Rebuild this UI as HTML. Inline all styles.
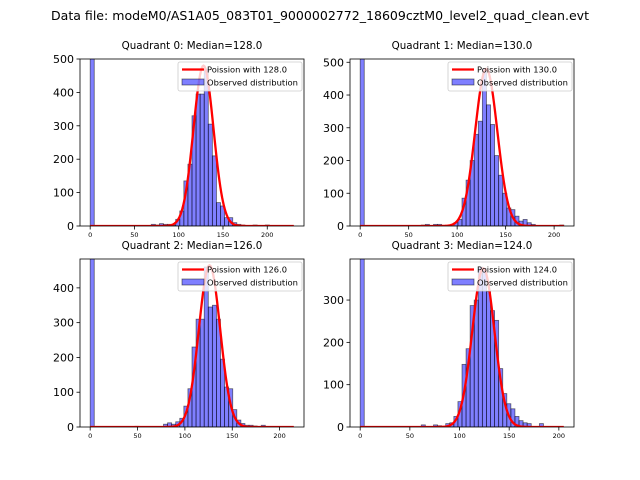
<!DOCTYPE html>
<html><head><meta charset="utf-8"><style>
body{margin:0;background:#fff;}
svg{display:block;font-family:"DejaVu Sans","Liberation Sans",sans-serif;}
</style></head><body>
<svg id="fig" width="640" height="480" viewBox="0 0 640 480" xmlns="http://www.w3.org/2000/svg">
<rect width="640" height="480" fill="#fff"/>
<text x="320" y="20" font-size="12.4" text-anchor="middle" textLength="538" lengthAdjust="spacingAndGlyphs">Data file: modeM0/AS1A05_083T01_9000002772_18609cztM0_level2_quad_clean.evt</text>
</svg>
<script>
// ---- data ----
const quadNames = ["Quadrant 0","Quadrant 1","Quadrant 2","Quadrant 3"];
const medians = [128.0, 130.0, 126.0, 124.0];
const maxValues = [230, 210, 215, 205];
const yMax = [500, 510, 483, 397];
const yTicks0 = [0,100,200,300,400,500];
const yTicks1 = [0,100,200,300,400,500];
const yTicks2 = [0,100,200,300,400];
const yTicks3 = [0,100,200,300];
const xTicks = [0,50,100,150,200];
const curvePeaks = [480, 480, 465, 375];
// counts per bin (50 bins each, listed as {bin index: count})
const counts0 = {0:3000,15:5,16:3,17:7,18:5,19:5,20:3,21:20,22:45,23:135,24:185,25:330,26:395,27:395,28:470,29:305,30:210,31:70,32:60,33:25,34:25,35:10,36:5,37:3,40:3,43:3};
const counts1 = {0:3000,15:3,16:5,18:5,19:5,23:10,24:20,25:85,26:140,27:200,28:280,29:320,30:480,31:370,32:310,33:215,34:155,35:100,36:55,37:50,38:30,39:15,40:20,41:10,42:5,49:3};
const counts2 = {0:3000,11:2,18:8,19:12,20:8,21:15,22:25,23:60,24:110,25:230,26:310,27:310,28:460,29:345,30:350,31:310,32:195,33:115,34:110,35:50,36:20,37:10,38:5,39:5,40:3,42:5};
const counts3 = {0:3000,15:5,18:5,19:3,21:8,22:10,23:25,24:60,25:148,26:185,27:287,28:300,29:378,30:375,31:320,32:275,33:252,34:138,35:79,36:55,37:43,38:25,39:15,40:10,41:8,44:8};
const allCounts = [counts0,counts1,counts2,counts3];
const allYTicks = [yTicks0,yTicks1,yTicks2,yTicks3];

// ---- layout ----
const boxes = [{x:80,y:59,w:224,h:167},{x:350,y:59,w:224,h:167},{x:80,y:259,w:224,h:168},{x:350,y:259,w:224,h:168}];
const NS="http://www.w3.org/2000/svg";
const svg=document.getElementById('fig');
function mk(tag,attrs,parent){const e=document.createElementNS(NS,tag);for(const k in attrs)e.setAttribute(k,attrs[k]);(parent||svg).appendChild(e);return e;}

for(let q=0;q<4;q++){
  const b=boxes[q], mx=maxValues[q], nb=50, bw=mx/nb;
  const x0=-mx*0.05, x1=mx*1.05;
  const sx=v=>b.x+(v-x0)/(x1-x0)*b.w;
  const sy=v=>b.y+b.h-v/yMax[q]*b.h;
  const g=mk('g',{});
  
  
  const cid='clip'+q;
  const cp=mk('clipPath',{id:cid},g);mk('rect',{x:b.x,y:b.y,width:b.w,height:b.h},cp);
  const bars=mk('g',{'clip-path':'url(#'+cid+')'},g);
  const c=allCounts[q];
  for(const k in c){
    const i=+k, v=c[k];
    const r=mk('rect',{x:sx(i*bw),y:sy(v),width:sx((i+1)*bw)-sx(i*bw),height:sy(0)-sy(v),fill:'rgba(0,0,255,0.5)',stroke:'rgba(0,0,0,0.55)','stroke-width':0.8},bars);
    
    
  }
  const lam=medians[q];let d='';
  for(let t=0;t<=mx;t+=1){const v=curvePeaks[q]*Math.exp(-(t-lam)*(t-lam)/(2*lam));d+=(t?'L':'M')+sx(t).toFixed(2)+','+sy(v).toFixed(2);}
  const p=mk('path',{d:d,fill:'none',stroke:'red','stroke-width':2.3},bars);
  
  
  mk('rect',{x:b.x,y:b.y,width:b.w,height:b.h,fill:'none',stroke:'#000','stroke-width':0.8},g);
  for(const t of xTicks){
    mk('line',{x1:sx(t),x2:sx(t),y1:b.y+b.h,y2:b.y+b.h+3.5,stroke:'#000','stroke-width':0.8},g);
    const tx=mk('text',{x:sx(t),y:b.y+b.h+11,'font-size':6.5,'text-anchor':'middle'},g);tx.textContent=t;
    
    
  }
  for(const t of allYTicks[q]){
    mk('line',{x1:b.x-3.5,x2:b.x,y1:sy(t),y2:sy(t),stroke:'#000','stroke-width':0.8},g);
    const ty=mk('text',{x:b.x-6,y:sy(t)+4,'font-size':11,'text-anchor':'end'},g);ty.textContent=t;
    
    
  }
  const tt=mk('text',{x:b.x+b.w/2,y:b.y-10,'font-size':10.3,'text-anchor':'middle'},g);
  tt.textContent=quadNames[q]+': Median='+medians[q].toFixed(1);
  
  
  const lg=mk('g',{},g);
  
  
  const lx=b.x+b.w-126, ly=b.y+3;
  mk('rect',{x:lx,y:ly,width:124,height:29,rx:2,fill:'rgba(255,255,255,0.8)',stroke:'#ccc','stroke-width':0.8},lg);
  mk('line',{x1:lx+4,x2:lx+26,y1:ly+7.5,y2:ly+7.5,stroke:'red','stroke-width':2.3},lg);
  const l1=mk('text',{x:lx+29,y:ly+10.5,'font-size':8.3},lg);l1.textContent='Poission with '+medians[q].toFixed(1);
  mk('rect',{x:lx+4,y:ly+17,width:22,height:6,fill:'rgba(0,0,255,0.5)',stroke:'rgba(0,0,0,0.55)','stroke-width':0.8},lg);
  const l2=mk('text',{x:lx+29,y:ly+23.5,'font-size':8.3,textLength:91,lengthAdjust:'spacingAndGlyphs'},lg);l2.textContent='Observed distribution';
}
</script>
</body></html>
